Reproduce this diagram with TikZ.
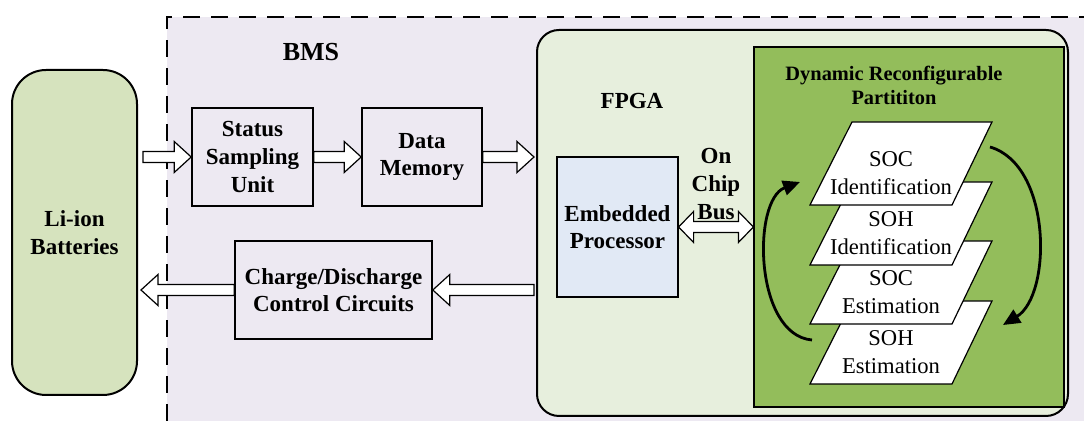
\documentclass[tikz,border=0pt]{standalone}
\usepackage{fontspec}
\setmainfont{Liberation Serif}
\usepackage{tikz}
\usetikzlibrary{arrows.meta,calc}

\definecolor{battgreen}{RGB}{214,227,190}
\definecolor{bmslilac}{RGB}{237,233,242}
\definecolor{fpgagreen}{RGB}{231,239,221}
\definecolor{cpublue}{RGB}{225,233,245}
\definecolor{drpgreen}{RGB}{147,189,91}

\begin{document}
\begin{tikzpicture}[x=0.5pt, y=-0.5pt,
    box/.style={draw, line width=0.8pt, inner sep=0pt, align=center,
      font=\fontsize{11.5}{13.8}\selectfont\bfseries},
    lbl/.style={inner sep=0pt, align=center, font=\fontsize{11.5}{13.8}\selectfont\bfseries},
    layer/.style={draw, line width=0.6pt, fill=white},
    layertext/.style={inner sep=0pt, align=center, font=\fontsize{11.3}{14}\selectfont},
    spin/.style={line width=1.4pt, -{Triangle[length=8.5pt,width=7.5pt]}},
    % hollow block arrow, one head at the target
    fat/.style={draw, line width=0.6pt, fill=white, to path={
      let \p1=(\tikztostart), \p2=(\tikztotarget), \n1={(\x2>\x1)*2-1} in
      (\x1,{\y1+2.75pt}) -- ({\x2-8.5pt*(\n1)},{\y1+2.75pt})
      -- ({\x2-8.5pt*(\n1)},{\y1+7.75pt}) -- (\x2,\y1)
      -- ({\x2-8.5pt*(\n1)},{\y1-7.75pt}) -- ({\x2-8.5pt*(\n1)},{\y1-2.75pt})
      -- (\x1,{\y1-2.75pt}) -- cycle}},
    % hollow block arrow, heads at both ends
    fatboth/.style={draw, line width=0.6pt, fill=white, to path={
      let \p1=(\tikztostart), \p2=(\tikztotarget) in
      (\x1,\y1) -- ({\x1+7.5pt},{\y1-7.75pt}) -- ({\x1+7.5pt},{\y1-2.75pt})
      -- ({\x2-7.5pt},{\y1-2.75pt}) -- ({\x2-7.5pt},{\y1-7.75pt}) -- (\x2,\y1)
      -- ({\x2-7.5pt},{\y1+7.75pt}) -- ({\x2-7.5pt},{\y1+2.75pt})
      -- ({\x1+7.5pt},{\y1+2.75pt}) -- ({\x1+7.5pt},{\y1+7.75pt}) -- cycle}}]

  \useasboundingbox (0,0) rectangle (1084,421);

  % BMS area, dashed on the left and top
  \fill[bmslilac] (167,17) rectangle (1084,421);
  \draw[line width=1.3pt, dash pattern=on 8.5pt off 5.5pt] (167,421) -- (167,17) -- (1084,17);
  \node[lbl, font=\fontsize{13}{15}\selectfont\bfseries] (bms) at (311,52) {BMS};

  % battery pack
  \node[box, line width=1pt, fill=battgreen, rounded corners=17pt,
    minimum width=62.5pt, minimum height=162.5pt] (batt) at (74.5,232.5) {Li-ion\\Batteries};

  % sampling and control blocks
  \node[box, minimum width=60.5pt, minimum height=49pt] (ssu) at (252.5,157) {Status\\Sampling\\Unit};
  \node[box, minimum width=60pt, minimum height=49pt] (dm) at (422,157) {Data\\Memory};
  \node[box, minimum width=98.5pt, minimum height=49pt] (cdc) at (333.5,290) {Charge/Discharge\\Control Circuits};

  % FPGA
  \node[box, line width=1pt, fill=fpgagreen, rounded corners=11pt,
    minimum width=265.5pt, minimum height=193pt] (fpga) at (802.5,223) {};
  \node[lbl] (fpgalbl) at (632,101) {FPGA};
  \node[box, line width=0.6pt, fill=cpublue, minimum width=60.5pt, minimum height=70pt] (cpu) at (617.5,227) {Embedded\\Processor};
  \node[lbl] (bus) at (716,184) {On\\Chip\\Bus};

  % reconfigurable partition
  \node[box, line width=0.6pt, fill=drpgreen, minimum width=155pt, minimum height=180pt] (drp) at (909,227) {};
  \node[lbl, font=\fontsize{10.2}{12}\selectfont\bfseries] (drplbl) at (894,85) {Dynamic Reconfigurable\\Partititon};

  % stacked modules, bottom one first
  \foreach \ty/\txt [count=\i] in {301/{SOH\\Estimation}, 241/{SOC\\Estimation},
      182/{SOH\\Identification}, 122/{SOC\\Identification}} {
    \draw[layer] (852,\ty) -- ++(140,0) -- ++(-40,83) -- ++(-142,0) -- cycle;
    \node[layertext] (mod\i) at (891,\ty+51) {\txt};
  }

  % swap cycle
  \draw[spin] (990,147) .. controls (1052,165) and (1052,295) .. (1003,325);
  \draw[spin] (812,340) .. controls (754,335) and (752,200) .. (800,182);

  % data flow
  \draw[fat] ($(batt.east |- ssu.west)+(5,0)$) to (ssu.west);
  \draw[fat] (ssu.east) to (dm.west);
  \draw[fat] (dm.east) to ($(fpga.west |- dm.east)+(-2,0)$);
  \draw[fat] ($(fpga.west |- cdc.east)+(-2,0)$) to (cdc.east);
  \draw[fat] (cdc.west) to ($(batt.east |- cdc.west)+(3,0)$);
  \draw[fatboth] (cpu.east) to (drp.west |- cpu.east);
\end{tikzpicture}
\end{document}
